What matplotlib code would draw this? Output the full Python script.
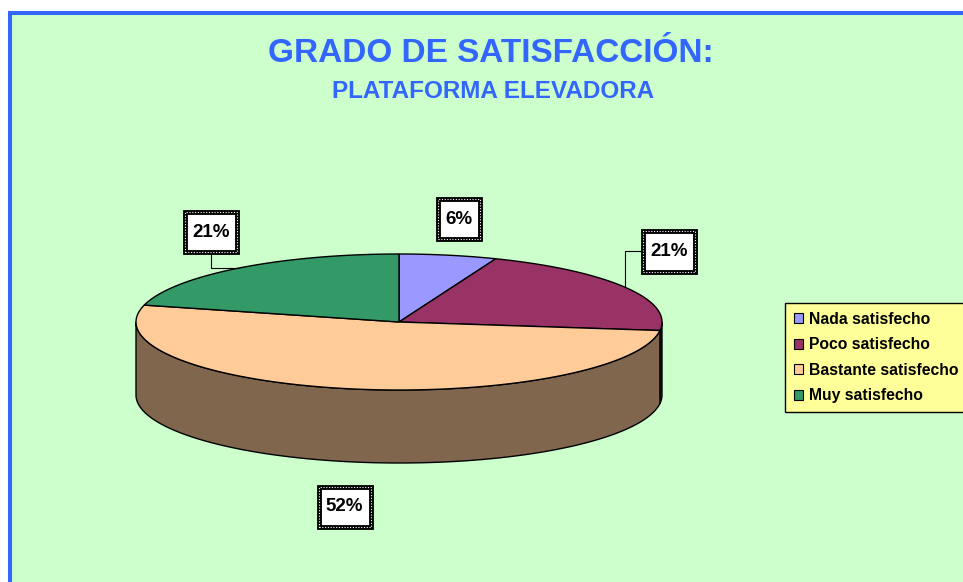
import numpy as np
import matplotlib
matplotlib.use('Agg')
import matplotlib.pyplot as plt
from matplotlib.patches import Polygon, Rectangle, Patch
from matplotlib.colors import to_rgb

# datos del grafico
TITLE = 'GRADO DE SATISFACCIÓN:'
SUBTITLE = 'PLATAFORMA ELEVADORA'
categories = ['Nada satisfecho', 'Poco satisfecho', 'Bastante satisfecho', 'Muy satisfecho']
percent = [6, 21, 52, 21]
colors = ['#9999FF', '#993366', '#FFCC99', '#339966']

# lienzo en pixeles
W, H = 963, 582
BG = '#CCFFCC'
BLUE = '#3366FF'
FONT = ['Liberation Sans', 'DejaVu Sans']

# geometria de la tarta 3D (pixeles)
CX, CY = 399, 322
RX, RY = 263, 68
DEPTH = 73

# desplazamiento de las etiquetas respecto al borde, y tipo de linea guia
LABEL_OFFSETS = [(11, -36), (44, -36), (-5, 45), (-27, -36)]
LEADERS = [None, 'h', None, 'v']


def rim(theta):
    t = np.radians(theta)
    return CX + RX * np.sin(t), CY - RY * np.cos(t)


def darker(c, k=0.5):
    return tuple(v * k for v in to_rgb(c))


fig = plt.figure(figsize=(W / 100, H / 100), dpi=100, facecolor='white')
ax = fig.add_axes([0, 0, 1, 1])
ax.set_xlim(0, W)
ax.set_ylim(H, 0)
ax.axis('off')

# fondo verde con marco azul
ax.add_patch(Rectangle((10.3, 12.7), 1000, 640, facecolor=BG, edgecolor=BLUE,
                       linewidth=2.9, zorder=0))

fig.text(491 / W, 1 - 54 / H, TITLE, color=BLUE, fontsize=24, fontweight='bold',
         family=FONT, ha='center', va='center')
fig.text(493 / W, 1 - 91 / H, SUBTITLE, color=BLUE, fontsize=17.5, fontweight='bold',
         family=FONT, ha='center', va='center')

# angulos (grados, desde arriba en sentido horario)
frac = np.array(percent, dtype=float) / sum(percent)
edges = np.concatenate([[0], np.cumsum(frac) * 360])

# paredes laterales visibles (mitad delantera)
for i, c in enumerate(colors):
    s0, s1 = max(edges[i], 90), min(edges[i + 1], 270)
    if s1 <= s0:
        continue
    ts = np.linspace(s0, s1, 150)
    x, y = rim(ts)
    xs = np.concatenate([x, x[::-1]])
    ys = np.concatenate([y, (y + DEPTH)[::-1]])
    ax.add_patch(Polygon(np.column_stack([xs, ys]), closed=True, facecolor=darker(c),
                         edgecolor='black', linewidth=1.0, zorder=2))

# caras superiores
for i, c in enumerate(colors):
    ts = np.linspace(edges[i], edges[i + 1], 200)
    x, y = rim(ts)
    xs = np.concatenate([[CX], x])
    ys = np.concatenate([[CY], y])
    ax.add_patch(Polygon(np.column_stack([xs, ys]), closed=True, facecolor=c,
                         edgecolor='black', linewidth=1.0, zorder=3))

# etiquetas de porcentaje
box_outer = dict(boxstyle='square,pad=0.39', mutation_aspect=1.6, facecolor='white',
                 edgecolor='black', linewidth=3.5)
box_inner = dict(boxstyle='square,pad=0.39', mutation_aspect=1.6, facecolor='none',
                 edgecolor='white', linewidth=0.8, linestyle=(0, (1, 1.5)))
for i, p in enumerate(percent):
    mid = (edges[i] + edges[i + 1]) / 2
    rx, ry = rim(mid)
    if np.cos(np.radians(mid)) < 0:
        ry += DEPTH
    lx, ly = rx + LABEL_OFFSETS[i][0], ry + LABEL_OFFSETS[i][1]
    if LEADERS[i] == 'v':
        ax.plot([rx, lx, lx], [ry, ry, ly], color='black', linewidth=0.8, zorder=4)
    elif LEADERS[i] == 'h':
        ax.plot([rx, rx, lx], [ry, ly, ly], color='black', linewidth=0.8, zorder=4)
    txt = f'{p}%'
    ax.text(lx, ly, txt, fontsize=13.5, fontweight='bold', family=FONT, color='black',
            ha='center', va='center', zorder=5, bbox=box_outer)
    ax.text(lx, ly, txt, fontsize=13.5, fontweight='bold', family=FONT, color='none',
            ha='center', va='center', zorder=6, bbox=box_inner)

# leyenda
handles = [Patch(facecolor=c, edgecolor='black', linewidth=0.8) for c in colors]
leg = ax.legend(handles, categories, loc='upper left',
                bbox_to_anchor=(785 / W, 1 - 303 / H), bbox_transform=fig.transFigure,
                borderaxespad=0, frameon=True, fancybox=False, framealpha=1,
                facecolor='#FFFF99', edgecolor='black',
                prop={'family': FONT, 'weight': 'bold', 'size': 11.3},
                handlelength=0.6, handleheight=0.6, handletextpad=0.4,
                labelspacing=0.67, borderpad=0.55)
leg.get_frame().set_linewidth(1.0)
leg.set_zorder(7)

fig.savefig('out.png', dpi=100, facecolor='white')
